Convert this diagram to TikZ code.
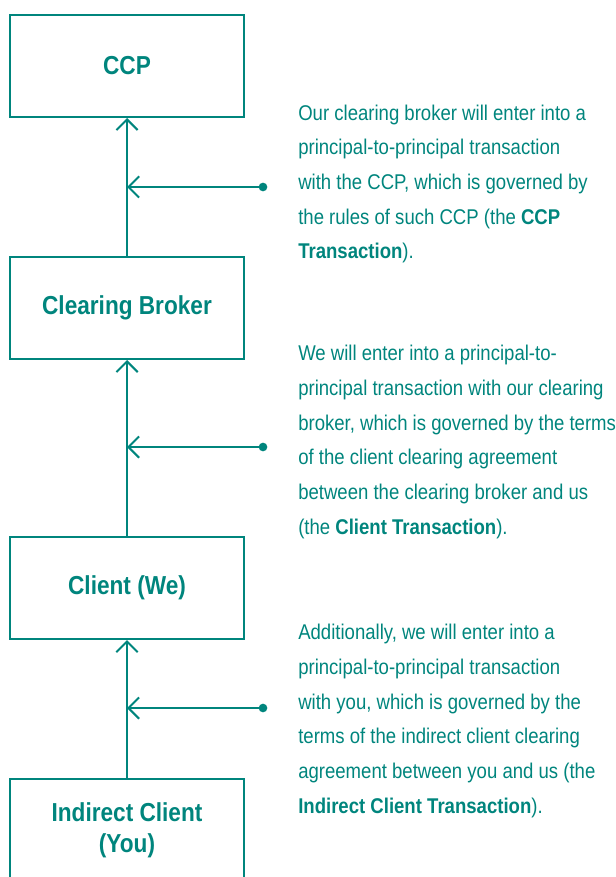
\documentclass[tikz,border=0pt]{standalone}
\usepackage{fontspec}
\setmainfont{Liberation Sans}[FakeStretch=0.87]
\usetikzlibrary{arrows.meta}
\definecolor{ccpgreen}{RGB}{0,133,125}
\tikzset{
  party/.style={draw=ccpgreen, line width=1.5pt, minimum width=175.5pt, minimum height=76.5pt, inner sep=0pt, text=ccpgreen, align=center, font=\bfseries\fontsize{19.5}{23}\selectfont},
  note/.style={anchor=west, inner sep=0pt, text=ccpgreen, align=left, font=\fontsize{16}{26}\selectfont},
  link/.style={draw=ccpgreen, line width=1.5pt, -{Straight Barb[length=8pt,width=16pt]}},
  dot/.style={circle, fill=ccpgreen, inner sep=0pt, minimum size=6.5pt}
}
\begin{document}
\begin{tikzpicture}[x=0.75pt,y=-0.75pt]
    \useasboundingbox (0,0) rectangle (616,877);
    \node [party] (ccp) at (127,66) {CCP};
    \node [party] (broker) at (127,308) {Clearing Broker};
    \node [party] (client) at (127,588) {Client (We)};
    \node [party] (indirect) at (127,830) {Indirect Client\\(You)};
    \draw [link] (broker.north) -- (ccp.south);
    \draw [link] (client.north) -- (broker.south);
    \draw [link] (indirect.north) -- (client.south);
    \coordinate (m1) at (127,187);
    \coordinate (m2) at (127,447);
    \coordinate (m3) at (127,708);
    \node [dot] (d1) at (263,187) {};
    \node [dot] (d2) at (263,447) {};
    \node [dot] (d3) at (263,708) {};
    \draw [link] (d1.center) -- (m1);
    \draw [link] (d2.center) -- (m2);
    \draw [link] (d3.center) -- (m3);
    \node [note] (t1) at (298,184) {Our clearing broker will enter into a\\principal-to-principal transaction\\with the CCP, which is governed by\\the rules of such CCP (the \textbf{CCP}\\\textbf{Transaction}).};
    \node [note] (t2) at (298,442) {We will enter into a principal-to-\\principal transaction with our clearing\\broker, which is governed by the terms\\of the client clearing agreement\\between the clearing broker and us\\(the \textbf{Client Transaction}).};
    \node [note] (t3) at (298,721) {Additionally, we will enter into a\\principal-to-principal transaction\\with you, which is governed by the\\terms of the indirect client clearing\\agreement between you and us (the\\\textbf{Indirect Client Transaction}).};
\end{tikzpicture}
\end{document}
